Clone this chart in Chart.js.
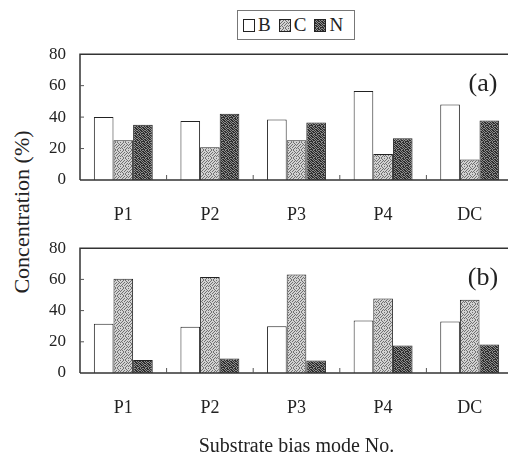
<!DOCTYPE html>
<html>
<head>
<meta charset="utf-8">
<script src="https://cdn.jsdelivr.net/npm/chart.js@4/dist/chart.umd.min.js"></script>
<style>
  html, body { margin: 0; padding: 0; background: #fff; overflow: hidden; width: 508px; height: 456px; }
  body { position: relative; font-family: "Liberation Serif", serif; color: #222; }
  canvas { position: absolute; left: 0; }
  #chartA { top: 30px; }
  #chartB { top: 224px; }
  #legend { position: absolute; left: 237px; top: 10px; width: 118px; height: 30px; border: 1px solid #777;
            display: flex; align-items: center; font-size: 19px; box-sizing: border-box; padding-left: 5px; }
  #legend span.sw { display: inline-block; width: 10px; height: 11px; border: 1px solid #222; margin-right: 3px; }
  #legend span.lb { margin-right: 8px; }
  #ytitle { position: absolute; left: 22px; top: 212px; transform: translate(-50%, -50%) rotate(-90deg);
            white-space: nowrap; font-size: 22px; }
</style>
</head>
<body>
<div id="legend"></div>
<div id="ytitle">Concentration (%)</div>
<canvas id="chartA" width="518" height="195"></canvas>
<canvas id="chartB" width="518" height="236"></canvas>
<script>
// Données
const modes = ['P1', 'P2', 'P3', 'P4', 'DC'];
const seriesNames = ['B', 'C', 'N'];
const yTicks = [0, 20, 40, 60, 80];

// (a)
const bA = [40, 37.5, 38.5, 56.6, 48];
const cA = [25.3, 20.8, 25.3, 16.6, 13];
const nA = [35.2, 42.1, 36.6, 26.5, 37.9];

// (b)
const bB = [31.6, 29.7, 29.9, 33.7, 33];
const cB = [60.4, 61.5, 63.2, 47.8, 46.9];
const nB = [8.4, 9.3, 8, 17.7, 18.3];

// Motifs pointillés pour imiter l'impression
function makeTile(base, dotColor, rows) {
    const c = document.createElement('canvas');
    c.width = 8; c.height = 8;
    const ctx = c.getContext('2d');
    ctx.fillStyle = base;
    ctx.fillRect(0, 0, 8, 8);
    ctx.fillStyle = dotColor;
    rows.forEach((r, j) => {
        for (let i = 0; i < 8; i++) if (r[i] === '1') ctx.fillRect(i, j, 1, 1);
    });
    return c;
}
const tileC = makeTile('#d2d2d2', '#707070', [
    '10010100', '00100010', '01001001', '10010010',
    '00100100', '01001001', '10100010', '00010100'
]);
const tileN = makeTile('#8c8c8c', '#2e2e2e', [
    '10110100', '01011011', '10100101', '11011010',
    '00101101', '11010110', '01101001', '10010111'
]);
const patC = document.createElement('canvas').getContext('2d').createPattern(tileC, 'repeat');
const patN = document.createElement('canvas').getContext('2d').createPattern(tileN, 'repeat');
const fills = ['#ffffff', patC, patN];

// Légende HTML
const legend = document.getElementById('legend');
seriesNames.forEach((name, i) => {
    const sw = document.createElement('span');
    sw.className = 'sw';
    if (i === 0) sw.style.background = '#fff';
    else sw.style.backgroundImage = 'url(' + (i === 1 ? tileC : tileN).toDataURL() + ')';
    const lb = document.createElement('span');
    lb.className = 'lb';
    lb.textContent = name;
    legend.appendChild(sw);
    legend.appendChild(lb);
});

// Cadre, petites graduations internes et étiquette du panneau
const framePlugin = {
    id: 'frame',
    afterDatasetsDraw(chart, args, opts) {
        const ctx = chart.ctx;
        const a = chart.chartArea;
        const x = chart.scales.x, y = chart.scales.y;
        ctx.save();
        ctx.strokeStyle = '#333';
        ctx.lineWidth = 1.5;
        ctx.beginPath();
        ctx.moveTo(a.left, a.bottom);
        ctx.lineTo(a.left, a.top);
        ctx.lineTo(a.right, a.top);
        ctx.moveTo(a.left, a.bottom);
        ctx.lineTo(a.right, a.bottom);
        ctx.stroke();
        ctx.lineWidth = 1;
        ctx.strokeStyle = '#555';
        ctx.beginPath();
        for (let i = 0; i < modes.length - 1; i++) {
            const px = (x.getPixelForTick(i) + x.getPixelForTick(i + 1)) / 2;
            ctx.moveTo(px, a.bottom);
            ctx.lineTo(px, a.bottom - 5);
        }
        yTicks.slice(1, -1).forEach(v => {
            const py = y.getPixelForValue(v);
            ctx.moveTo(a.left, py);
            ctx.lineTo(a.left + 4, py);
        });
        ctx.stroke();
        ctx.fillStyle = '#222';
        ctx.font = '26px "Liberation Serif"';
        ctx.textAlign = 'center';
        ctx.textBaseline = 'middle';
        ctx.fillText(opts.label, a.right - 30, a.top + 30);
        ctx.restore();
    }
};

function makeChart(id, values, label, padTop, xHeight, withTitle) {
    return new Chart(document.getElementById(id), {
        type: 'bar',
        data: {
            labels: modes,
            datasets: seriesNames.map((name, i) => ({
                label: name,
                data: values[i],
                backgroundColor: fills[i],
                borderColor: '#222',
                borderWidth: 1,
                borderSkipped: 'bottom',
                categoryPercentage: 0.68,
                barPercentage: 1.0
            }))
        },
        options: {
            responsive: false,
            animation: false,
            layout: { padding: { top: padTop, right: 5, left: 0, bottom: 0 } },
            plugins: {
                legend: { display: false },
                tooltip: { enabled: false },
                frame: { label: label }
            },
            scales: {
                x: {
                    grid: { display: false, drawTicks: false },
                    border: { display: false },
                    ticks: { color: '#222', font: { family: 'Liberation Serif', size: 18 }, padding: 24 },
                    title: {
                        display: withTitle,
                        text: 'Substrate bias mode No.',
                        color: '#222',
                        font: { family: 'Liberation Serif', size: 20 },
                        padding: { top: 0, bottom: 1 }
                    },
                    afterFit(scale) { scale.height = xHeight; }
                },
                y: {
                    min: 0,
                    max: 80,
                    grid: { display: false, drawTicks: false },
                    border: { display: false },
                    ticks: {
                        stepSize: 20,
                        color: '#222',
                        font: { family: 'Liberation Serif', size: 17 },
                        padding: 14
                    },
                    afterFit(scale) { scale.width = 80; }
                }
            }
        },
        plugins: [framePlugin]
    });
}

makeChart('chartA', [bA, cA, nA], '(a)', 3, 45, false);
makeChart('chartB', [bB, cB, nB], '(b)', 2, 87, true);
</script>
</body>
</html>
